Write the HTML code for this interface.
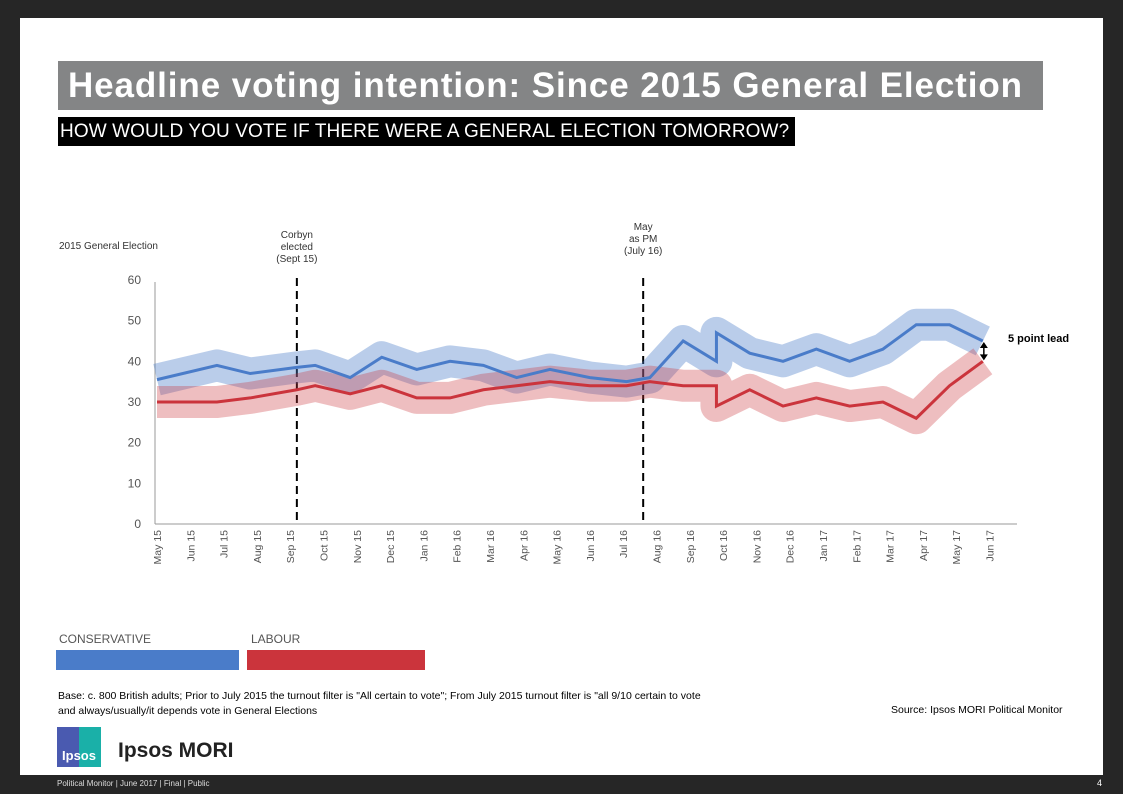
<!DOCTYPE html>
<html><head><meta charset="utf-8"><style>
body{margin:0;width:1123px;height:794px;background:#262626;position:relative;overflow:hidden;font-family:"Liberation Sans",sans-serif}
.abs{position:absolute}
</style></head><body>
<div class="abs" style="left:20px;top:18px;width:1083px;height:757px;background:#fff"></div>
<div class="abs" style="left:58px;top:61px;width:985px;height:49px;background:#848586;color:#fff;font-weight:bold;font-size:35px;letter-spacing:0.9px;line-height:49px;padding-left:10px;box-sizing:border-box;white-space:nowrap;overflow:hidden">Headline voting intention: Since 2015 General Election</div>
<div class="abs" style="left:58px;top:117px;width:737px;height:29px;background:#000;color:#fff;font-size:19px;line-height:30px;padding-left:2px;box-sizing:border-box;white-space:nowrap;letter-spacing:0.1px;overflow:hidden">HOW WOULD YOU VOTE IF THERE WERE A GENERAL ELECTION TOMORROW?</div>
<svg class="abs" style="left:0;top:0" width="1123" height="794" id="chart"></svg>
<div class="abs" style="left:59px;top:632px;font-size:12px;color:#555">CONSERVATIVE</div>
<div class="abs" style="left:56px;top:650px;width:183px;height:20px;background:#4a7cc9"></div>
<div class="abs" style="left:251px;top:632px;font-size:12px;color:#555">LABOUR</div>
<div class="abs" style="left:247px;top:650px;width:178px;height:20px;background:#cb343c"></div>
<div class="abs" style="left:58px;top:689px;font-size:10.5px;line-height:15px;color:#000">Base: c. 800 British adults; Prior to July 2015 the turnout filter is "All certain to vote"; From July 2015 turnout filter is "all 9/10 certain to vote<br>and always/usually/it depends vote in General Elections</div>
<div class="abs" style="left:891px;top:704px;font-size:10.5px;color:#000">Source: Ipsos MORI Political Monitor</div>
<div class="abs" style="left:57px;top:727px;width:44px;height:40px;background:linear-gradient(90deg,#4a5ab0 50%,#1ab0a8 50%);color:#fff;font-weight:bold;font-size:13px;line-height:58px;text-align:center">Ipsos</div>
<div class="abs" style="left:118px;top:739px;font-size:21px;font-weight:bold;color:#222">Ipsos MORI</div>
<div class="abs" style="left:57px;top:779px;font-size:8px;color:#ddd">Political Monitor | June 2017 | Final | Public</div>
<div class="abs" style="left:1097px;top:778px;font-size:9px;color:#fff">4</div>
<script>
const xIndex=[0,1.8,2.8,4.2,4.75,5.8,6.75,7.8,8.8,9.8,10.8,11.8,13,14.1,14.8,15.8,16.8,16.8,17.8,18.8,19.8,20.8,21.8,22.8,23.8,24.8];
const conValues=[35.5,39,37,38.5,39,36,41,38,40,39,36,38,36,35,36,45,40,47,42,40,43,40,43,49,49,45];
const labValues=[30,30,31,33,34,32,34,31,31,33,34,35,34,34,35,34,34,29,33,29,31,29,30,26,34,40];
const monthLabels=["May 15","Jun 15","Jul 15","Aug 15","Sep 15","Oct 15","Nov 15","Dec 15","Jan 16","Feb 16","Mar 16","Apr 16","May 16","Jun 16","Jul 16","Aug 16","Sep 16","Oct 16","Nov 16","Dec 16","Jan 17","Feb 17","Mar 17","Apr 17","May 17","Jun 17"];
const yTicks=[0,10,20,30,40,50,60];
const events=[{i:4.2,t:["Corbyn","elected","(Sept 15)"]},{i:14.6,t:["May","as PM","(July 16)"]}];
const NS="http://www.w3.org/2000/svg",svg=document.getElementById('chart');
const X=i=>157+i*33.3, Y=v=>524-v*4.067;
function mk(tag,a){const e=document.createElementNS(NS,tag);for(const k in a)e.setAttribute(k,a[k]);svg.appendChild(e);return e;}
let e=mk('line',{x1:155,y1:282,x2:155,y2:524,stroke:'#999'});

e=mk('line',{x1:155,y1:524,x2:1017,y2:524,stroke:'#999'});

yTicks.forEach(v=>{const t=mk('text',{x:141,y:Y(v)+4,'text-anchor':'end','font-size':12,fill:'#555'});t.textContent=v;
});
monthLabels.forEach((m,i)=>{const t=mk('text',{transform:`translate(${X(i)+4},${530}) rotate(-90)`,'text-anchor':'end','font-size':10.5,fill:'#555'});t.textContent=m;
});
e=mk('text',{x:59,y:249,'font-size':10,fill:'#333'});e.textContent='2015 General Election';

events.forEach(ev=>{const x=X(ev.i);const l=mk('line',{x1:x,y1:278,x2:x,y2:520,stroke:'#000','stroke-width':2,'stroke-dasharray':'8,5'});

ev.t.forEach((s,k)=>{const t=mk('text',{x:x,y:(ev.i<10?238:230)+k*12,'text-anchor':'middle','font-size':10,fill:'#333'});t.textContent=s;
});});
function pts(vals){return vals.map((v,k)=>X(xIndex[k])+','+Y(v)).join(' ');}
e=mk('polyline',{points:pts(conValues),fill:'none',stroke:'#4a7cc9','stroke-opacity':0.38,'stroke-width':32,'stroke-linejoin':'round'});

e=mk('polyline',{points:pts(labValues),fill:'none',stroke:'#cb343c','stroke-opacity':0.32,'stroke-width':32,'stroke-linejoin':'round'});

e=mk('polyline',{points:pts(conValues),fill:'none',stroke:'#4a7cc9','stroke-width':3});

e=mk('polyline',{points:pts(labValues),fill:'none',stroke:'#cb343c','stroke-width':3});

const n=conValues.length-1,ax=X(xIndex[n])+1;
e=mk('line',{x1:ax,y1:Y(conValues[n])+5,x2:ax,y2:Y(labValues[n])-5,stroke:'#000','stroke-width':1.5});

e=mk('path',{d:`M${ax-4},${Y(conValues[n])+7}L${ax},${Y(conValues[n])+1}L${ax+4},${Y(conValues[n])+7}ZM${ax-4},${Y(labValues[n])-7}L${ax},${Y(labValues[n])-1}L${ax+4},${Y(labValues[n])-7}Z`,fill:'#000'});

e=mk('text',{x:1008,y:342,'font-size':11,'font-weight':'bold',fill:'#000'});e.textContent='5 point lead';

</script>
</body></html>
